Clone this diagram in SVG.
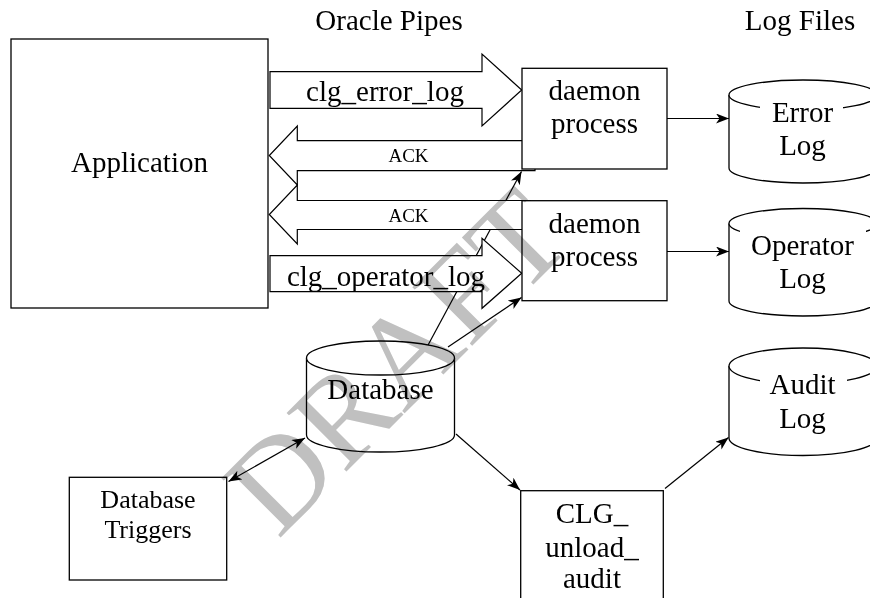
<svg xmlns="http://www.w3.org/2000/svg" width="870" height="598" viewBox="0 0 870 598">
<defs>
<marker id="ah" markerUnits="userSpaceOnUse" markerWidth="14" markerHeight="11" refX="13" refY="5" orient="auto-start-reverse">
<path d="M0,0 L13,5 L0,10 L3.5,5 z" fill="#000"/>
</marker>
</defs>
<style>
text{font-family:"Liberation Serif","Times New Roman",serif;fill:#000}
.t{font-size:29px;text-anchor:middle}
.s{font-size:19px;text-anchor:middle}
.m{font-size:26px;text-anchor:middle}
.box{fill:#fff;stroke:#000;stroke-width:1.3}
.pipe{fill:#fff;stroke:#000;stroke-width:1.2}
.ln{fill:none;stroke:#000;stroke-width:1.2;marker-end:url(#ah)}
.bg{fill:#fff;stroke:none}
.wm{font-size:128px;fill:#c0c0c0;mix-blend-mode:multiply}
</style>
<rect width="870" height="598" fill="#fff"/>
<text class="t" x="389" y="30">Oracle Pipes</text>
<text class="t" x="800" y="30">Log Files</text>
<g id="connectors">
<line class="ln" x1="427" y1="347" x2="521.5" y2="171.5"/>
<line class="ln" x1="448" y1="347" x2="521.5" y2="297.5"/>
<line class="ln" x1="667" y1="118.5" x2="729" y2="118.5"/>
<line class="ln" x1="667" y1="251.5" x2="729" y2="251.5"/>
<line class="ln" x1="456" y1="434" x2="520" y2="490"/>
<line class="ln" x1="665" y1="488.5" x2="728.5" y2="437.5"/>
<line class="ln" x1="228.5" y1="481.5" x2="305" y2="438" style="marker-start:url(#ah)"/>
<g id="pipe-error">
<polygon class="pipe" points="270,71.7 482,71.7 482,54 521.7,90 482,126 482,108.3 270,108.3"/>
<text class="t" x="385" y="101">clg_error_log</text>
</g>
<g id="pipe-ack1">
<polygon class="pipe" points="535,140.7 297.3,140.7 297.3,126 269.3,155.5 297.3,185 297.3,170.7 535,170.7"/>
<text class="s" x="408.5" y="162">ACK</text>
</g>
<g id="pipe-ack2">
<polygon class="pipe" points="530,200.5 297.3,200.5 297.3,185 269.3,214.5 297.3,244 297.3,229.5 530,229.5"/>
<text class="s" x="408.5" y="221.5">ACK</text>
</g>
<g id="pipe-operator">
<polygon class="pipe" points="270,255.7 482,255.7 482,238.3 521.7,273.3 482,308.3 482,291.7 270,291.7"/>
<text class="t" x="386" y="286">clg_operator_log</text>
</g>
</g>
<g id="application">
<rect class="box" x="11" y="39" width="257" height="269"/>
<text class="t" x="139.5" y="171.5">Application</text>
</g>
<g id="daemon1">
<rect class="box" x="522" y="68.3" width="145" height="100.7"/>
<text class="t" x="594.5" y="100">daemon</text>
<text class="t" x="594.5" y="133">process</text>
</g>
<g id="daemon2">
<rect class="box" x="522" y="200.7" width="145" height="100"/>
<text class="t" x="594.5" y="233">daemon</text>
<text class="t" x="594.5" y="266">process</text>
</g>
<g id="error-log">
<path class="box" d="M729,95 L729,168 A74,15 0 0 0 877,168 L877,95"/>
<ellipse class="box" cx="803" cy="95" rx="74" ry="15"/>
<rect class="bg" x="760" y="99" width="83" height="63"/>
<text class="t" x="802.5" y="121.5">Error</text>
<text class="t" x="802.5" y="155">Log</text>
</g>
<g id="operator-log">
<path class="box" d="M729,223.5 L729,301 A74,15 0 0 0 877,301 L877,223.5"/>
<ellipse class="box" cx="803" cy="223.5" rx="74" ry="15"/>
<rect class="bg" x="740" y="227" width="126" height="66"/>
<text class="t" x="802.5" y="255">Operator</text>
<text class="t" x="802.5" y="288">Log</text>
</g>
<g id="audit-log">
<path class="box" d="M729,366 L729,438 A74,17.5 0 0 0 877,438 L877,366"/>
<ellipse class="box" cx="803" cy="366" rx="74" ry="18"/>
<rect class="bg" x="760" y="370" width="87" height="64"/>
<text class="t" x="802.5" y="393.5">Audit</text>
<text class="t" x="802.5" y="428">Log</text>
</g>
<g id="database">
<path class="box" d="M306.5,358 L306.5,435 A74,17 0 0 0 454.5,435 L454.5,358"/>
<ellipse class="box" cx="380.5" cy="358" rx="74" ry="17"/>
<text class="t" x="380.5" y="399">Database</text>
</g>
<g id="db-triggers">
<rect class="box" x="69.3" y="477.3" width="157.4" height="102.7"/>
<text class="m" x="148" y="508.3">Database</text>
<text class="m" x="148" y="538.3">Triggers</text>
</g>
<g id="clg-unload-audit">
<rect class="box" x="520.7" y="490.7" width="142.6" height="130"/>
<text class="t" x="592" y="522.7">CLG_</text>
<text class="t" x="592" y="556.7">unload_</text>
<text class="t" x="592" y="588.3">audit</text>
</g>
<text class="wm" x="278" y="540" transform="rotate(-45 278 540)">DRAFT</text>
</svg>
